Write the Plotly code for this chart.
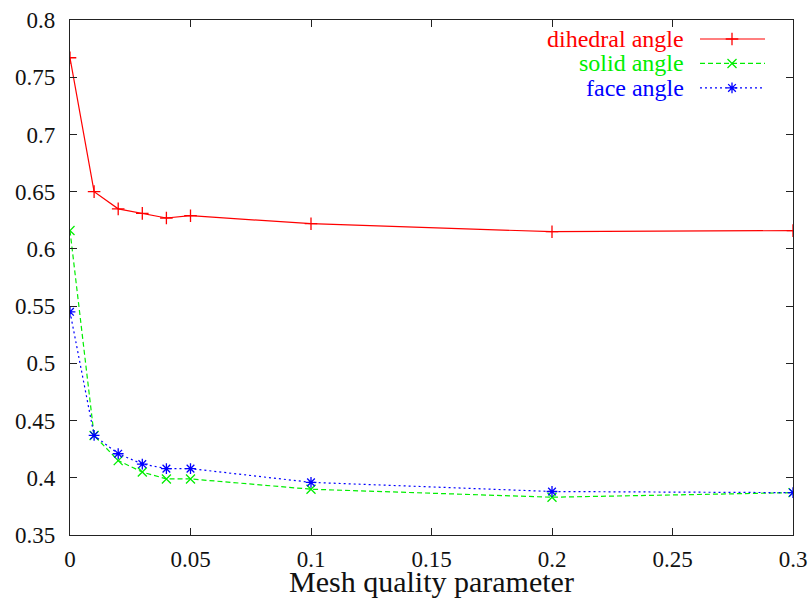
import plotly.graph_objects as go

# ---- data ----
x_vals = [0.0, 0.01, 0.02, 0.03, 0.04, 0.05, 0.1, 0.2, 0.3]
dihedral = [0.767, 0.650, 0.635, 0.631, 0.627, 0.629, 0.622, 0.615, 0.616]
solid = [0.616, 0.437, 0.415, 0.405, 0.399, 0.399, 0.390, 0.383, 0.387]
face = [0.545, 0.437, 0.421, 0.412, 0.408, 0.408, 0.396, 0.388, 0.387]
series_names = ["dihedral angle", "solid angle", "face angle"]
x_ticks = [0, 0.05, 0.1, 0.15, 0.2, 0.25, 0.3]
x_tick_text = ["0", "0.05", "0.1", "0.15", "0.2", "0.25", "0.3"]
y_ticks = [0.35, 0.4, 0.45, 0.5, 0.55, 0.6, 0.65, 0.7, 0.75, 0.8]
y_tick_text = ["0.35", "0.4", "0.45", "0.5", "0.55", "0.6", "0.65", "0.7", "0.75", "0.8"]
x_title = "Mesh quality parameter"

FONT = "Liberation Serif"
colors = ["#ff0000", "#00ee00", "#0000ff"]
dashes = ["solid", "5px,3px", "2px,3px"]
symbols = ["cross-thin", "x-thin", "asterisk-open"]
values = [dihedral, solid, face]

fig = go.Figure()
for name, ys, c, d, s in zip(series_names, values, colors, dashes, symbols):
    fig.add_trace(go.Scatter(
        x=x_vals, y=ys, mode="lines+markers", name=name,
        line=dict(color=c, width=1.2, dash=d),
        marker=dict(symbol=s, size=9, color=c, line=dict(color=c, width=1.3)),
        showlegend=False, xaxis="x", yaxis="y",
    ))

# manual gnuplot-style legend (text right, sample on right)
W, H = 810, 598
L, R, T, B = 70, 793, 19.5, 535
def px(xp):
    return (xp - L) / (R - L)
def py(yp):
    return (B - yp) / (B - T)

leg_rows = [38.5, 63, 87.5]
for name, c, d, s, yr in zip(series_names, colors, dashes, symbols, leg_rows):
    fig.add_annotation(x=px(686), y=py(yr), xref="x2", yref="y2", text=name,
                       showarrow=False, xanchor="right", yanchor="middle",
                       font=dict(family=FONT, size=24, color=c))
    fig.add_trace(go.Scatter(
        x=[px(700), px(732), px(765)], y=[py(yr)] * 3, mode="lines",
        line=dict(color=c, width=1.2, dash=d), showlegend=False,
        hoverinfo="skip", xaxis="x2", yaxis="y2"))
    fig.add_trace(go.Scatter(
        x=[px(732)], y=[py(yr)], mode="markers",
        marker=dict(symbol=s, size=9, color=c, line=dict(color=c, width=1.3)),
        showlegend=False, hoverinfo="skip", xaxis="x2", yaxis="y2"))

fig.add_annotation(x=px(431.5), y=py(581.5), xref="paper", yref="paper", text=x_title,
                   showarrow=False, xanchor="center", yanchor="middle",
                   font=dict(family=FONT, size=30, color="#111"))

axis_common = dict(
    showgrid=False, zeroline=False, showline=True, linecolor="#222",
    linewidth=1.2, mirror="allticks", ticks="inside", ticklen=7,
    tickcolor="#222", tickwidth=1.2, automargin=False,
    tickfont=dict(family=FONT, size=23, color="#111"),
)

fig.update_layout(
    width=W, height=H,
    margin=dict(l=L, r=W - R, t=T, b=H - B, autoexpand=False),
    paper_bgcolor="white", plot_bgcolor="white",
    font=dict(family=FONT),
    xaxis=dict(range=[0, 0.3], tickvals=x_ticks, ticktext=x_tick_text,
               ticklabelstandoff=3, **axis_common),
    yaxis=dict(range=[0.35, 0.8], tickvals=y_ticks, ticktext=y_tick_text,
               ticklabelstandoff=9, **axis_common),
    xaxis2=dict(range=[0, 1], overlaying="x", visible=False, fixedrange=True),
    yaxis2=dict(range=[0, 1], overlaying="y", visible=False, fixedrange=True),
    showlegend=False,
)

fig.write_html("out.html", config={"displayModeBar": False},
               post_script="document.body.style.margin='0';document.body.style.overflow='hidden';")
